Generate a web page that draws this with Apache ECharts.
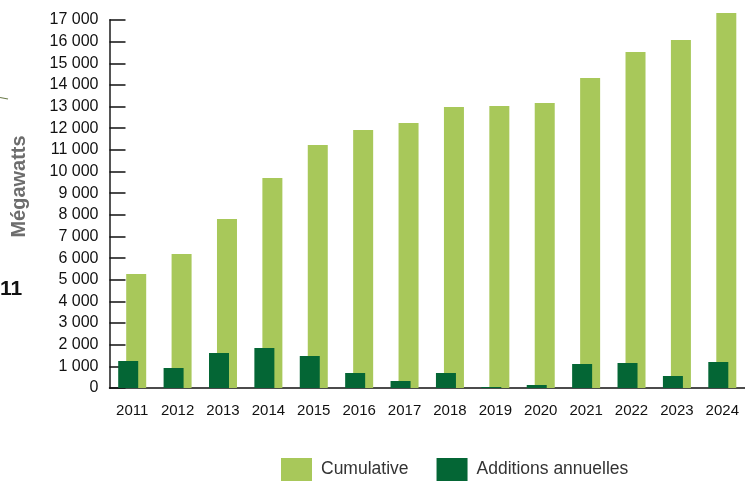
<!DOCTYPE html>
<html>
<head>
<meta charset="utf-8">
<script src="https://cdn.jsdelivr.net/npm/echarts@6/dist/echarts.min.js"></script>
<style>html,body{margin:0;padding:0;background:#fff;}#c{width:745px;height:481px;}</style>
</head>
<body>
<div id="c"></div>
<script>
const years = ['2011','2012','2013','2014','2015','2016','2017','2018','2019','2020','2021','2022','2023','2024'];
const cumulative = [5266, 6190, 7806, 9700, 11224, 11917, 12240, 12979, 13025, 13164, 14319, 15520, 16074, 17321];
const additions = [1247, 924, 1617, 1848, 1478, 693, 323, 693, 46, 139, 1109, 1155, 554, 1201];
const yMin = 0, yMax = 17000, yStep = 1000;

const FONT = "'Liberation Sans', Arial, sans-serif";
const chart = echarts.init(document.getElementById('c'));
chart.setOption({
  animation: false,
  backgroundColor: '#fff',
  grid: { left: 109.5, right: -5, top: 20, bottom: 93 },
  legend: {
    data: ['Cumulative', 'Additions annuelles'],
    left: 281, top: 458, padding: 0,
    itemWidth: 31, itemHeight: 23, itemGap: 28,
    icon: 'rect',
    textStyle: { fontFamily: FONT, fontSize: 17.5, color: '#333', padding: [0, 0, 0, 4] }
  },
  xAxis: {
    type: 'category',
    data: years,
    axisLine: { lineStyle: { color: '#111', width: 1.5 } },
    axisTick: { inside: true, length: 9, lineStyle: { color: '#111', width: 1.5 } },
    axisLabel: { fontFamily: FONT, fontSize: 15, color: '#111', margin: 15 }
  },
  yAxis: {
    type: 'value',
    min: yMin, max: yMax, interval: yStep,
    splitLine: { show: false },
    axisLine: { show: true, lineStyle: { color: '#555', width: 2 } },
    axisTick: { show: true, inside: true, length: 16, lineStyle: { color: '#111', width: 1.5 } },
    axisLabel: {
      fontFamily: FONT, fontSize: 16, color: '#111', margin: 11,
      formatter: v => String(v).replace(/\B(?=(\d{3})+(?!\d))/g, ' ')
    }
  },
  series: [
    {
      name: 'Additions annuelles', type: 'bar', data: additions,
      barWidth: 20, barGap: '-60%', z: 3, clip: false,
      itemStyle: { color: '#046635' }
    },
    {
      name: 'Cumulative', type: 'bar', data: cumulative,
      barWidth: 20, z: 2, clip: false,
      itemStyle: { color: '#a8c85a' }
    }
  ],
  graphic: [
    {
      type: 'text', rotation: Math.PI / 2, x: 19, y: 186.5,
      style: { text: 'Mégawatts', fontFamily: FONT, fontSize: 20, fontWeight: 'bold', fill: '#6d6d6d',
               textAlign: 'center', textVerticalAlign: 'middle' }
    },
    {
      type: 'text', x: 0, y: 289.5,
      style: { text: '11', fontFamily: FONT, fontSize: 21, fontWeight: 'bold', fill: '#111',
               textAlign: 'left', textVerticalAlign: 'middle' }
    },
    {
      type: 'line', shape: { x1: 0, y1: 97.5, x2: 8, y2: 99 },
      style: { stroke: '#6b7a4a', lineWidth: 1.2 }
    }
  ]
});
</script>
</body>
</html>
